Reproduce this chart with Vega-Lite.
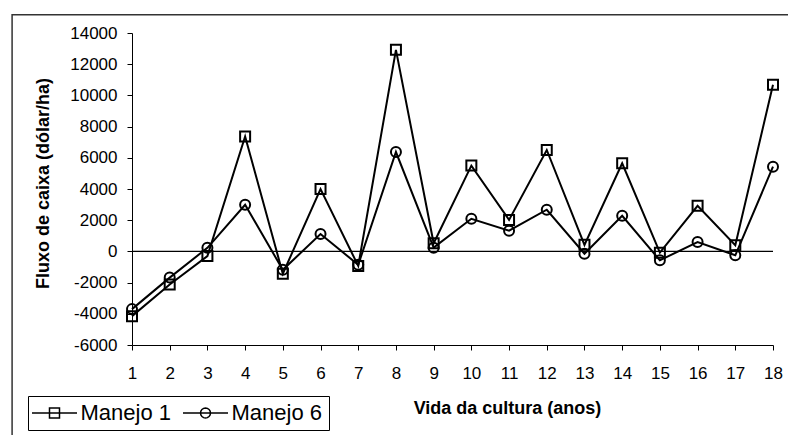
{
  "$schema": "https://vega.github.io/schema/vega-lite/v6.json",
  "width": 641,
  "height": 312,
  "autosize": {"type": "none"},
  "padding": {"left": 132, "top": 33, "right": 15, "bottom": 90},
  "background": "white",
  "config": {
    "font": "Liberation Sans",
    "view": {"stroke": null},
    "axis": {"grid": false, "domainColor": "#000", "tickColor": "#000", "labelColor": "#000", "titleColor": "#000", "labelFont": "Liberation Sans", "titleFont": "Liberation Sans", "labelOverlap": false}
  },
  "data": {
    "values": [
      {"ano": 1, "manejo": "Manejo 1", "valor": -4150},
      {"ano": 2, "manejo": "Manejo 1", "valor": -2120},
      {"ano": 3, "manejo": "Manejo 1", "valor": -300},
      {"ano": 4, "manejo": "Manejo 1", "valor": 7370},
      {"ano": 5, "manejo": "Manejo 1", "valor": -1430},
      {"ano": 6, "manejo": "Manejo 1", "valor": 4000},
      {"ano": 7, "manejo": "Manejo 1", "valor": -930},
      {"ano": 8, "manejo": "Manejo 1", "valor": 12920},
      {"ano": 9, "manejo": "Manejo 1", "valor": 520},
      {"ano": 10, "manejo": "Manejo 1", "valor": 5500},
      {"ano": 11, "manejo": "Manejo 1", "valor": 2020},
      {"ano": 12, "manejo": "Manejo 1", "valor": 6500},
      {"ano": 13, "manejo": "Manejo 1", "valor": 420},
      {"ano": 14, "manejo": "Manejo 1", "valor": 5650},
      {"ano": 15, "manejo": "Manejo 1", "valor": -80},
      {"ano": 16, "manejo": "Manejo 1", "valor": 2920},
      {"ano": 17, "manejo": "Manejo 1", "valor": 400},
      {"ano": 18, "manejo": "Manejo 1", "valor": 10680},
      {"ano": 1, "manejo": "Manejo 6", "valor": -3700},
      {"ano": 2, "manejo": "Manejo 6", "valor": -1680},
      {"ano": 3, "manejo": "Manejo 6", "valor": 230},
      {"ano": 4, "manejo": "Manejo 6", "valor": 2990},
      {"ano": 5, "manejo": "Manejo 6", "valor": -1180},
      {"ano": 6, "manejo": "Manejo 6", "valor": 1110},
      {"ano": 7, "manejo": "Manejo 6", "valor": -860},
      {"ano": 8, "manejo": "Manejo 6", "valor": 6370},
      {"ano": 9, "manejo": "Manejo 6", "valor": 240},
      {"ano": 10, "manejo": "Manejo 6", "valor": 2090},
      {"ano": 11, "manejo": "Manejo 6", "valor": 1330},
      {"ano": 12, "manejo": "Manejo 6", "valor": 2670},
      {"ano": 13, "manejo": "Manejo 6", "valor": -150},
      {"ano": 14, "manejo": "Manejo 6", "valor": 2280},
      {"ano": 15, "manejo": "Manejo 6", "valor": -570},
      {"ano": 16, "manejo": "Manejo 6", "valor": 600},
      {"ano": 17, "manejo": "Manejo 6", "valor": -250},
      {"ano": 18, "manejo": "Manejo 6", "valor": 5430}
    ]
  },
  "resolve": {"scale": {"shape": "independent"}, "legend": {"shape": "independent"}},
  "layer": [
    {
      "data": {"values": [{}]},
      "mark": {"type": "rect", "filled": false, "stroke": "#333", "strokeWidth": 1.5, "clip": false},
      "encoding": {
        "x": {"datum": -2.18, "type": "quantitative", "scale": {"domain": [1, 18]}},
        "x2": {"datum": 20},
        "y": {"datum": 15170, "type": "quantitative", "scale": {"domain": [-6000, 14000]}},
        "y2": {"datum": -12000}
      }
    },
    {
      "data": {"values": [{}]},
      "mark": {"type": "rule", "color": "#000", "strokeWidth": 1.2},
      "encoding": {
        "y": {"datum": 0, "type": "quantitative"}
      }
    },
    {
      "mark": {"type": "line", "color": "#000", "strokeWidth": 2},
      "encoding": {
        "x": {
          "field": "ano", "type": "quantitative",
          "scale": {"domain": [1, 18], "nice": false, "zero": false},
          "axis": {
            "values": [1,2,3,4,5,6,7,8,9,10,11,12,13,14,15,16,17,18],
            "tickCount": 30,
            "labelExpr": "'' + datum.value",
            "labelOverlap": false,
            "title": "Vida da cultura (anos)",
            "labelFontSize": 17,
            "labelPadding": 15,
            "tickSize": 5,
            "titleFontSize": 18,
            "titleFontWeight": "bold",
            "titleX": 375,
            "titleY": 68,
            "titleAlign": "center",
            "titleBaseline": "alphabetic",
            "labelFlush": false
          }
        },
        "y": {
          "field": "valor", "type": "quantitative",
          "scale": {"domain": [-6000, 14000], "nice": false, "zero": false},
          "axis": {
            "values": [-6000,-4000,-2000,0,2000,4000,6000,8000,10000,12000,14000],
            "tickCount": 30,
            "labelExpr": "'' + datum.value",
            "labelOverlap": false,
            "title": "Fluxo de caixa (dólar/ha)",
            "labelFontSize": 17,
            "labelPadding": 10,
            "tickSize": 5,
            "titleFontSize": 18,
            "titleFontWeight": "bold",
            "titleAngle": -90,
            "titleX": -89,
            "titleY": 150,
            "titleAlign": "center",
            "titleBaseline": "middle"
          }
        },
        "detail": {"field": "manejo", "type": "nominal"}
      }
    },
    {
      "mark": {"type": "point", "filled": false, "color": "#000", "strokeWidth": 2, "size": 100, "opacity": 1},
      "encoding": {
        "x": {"field": "ano", "type": "quantitative"},
        "y": {"field": "valor", "type": "quantitative"},
        "shape": {
          "field": "manejo", "type": "nominal",
          "scale": {"domain": ["Manejo 1", "Manejo 6"], "range": ["square", "circle"]},
          "legend": null
        }
      }
    },
    {
      "mark": {"type": "point", "filled": false, "color": "#000", "strokeWidth": 1.5, "opacity": 0},
      "encoding": {
        "x": {"field": "ano", "type": "quantitative"},
        "y": {"field": "valor", "type": "quantitative"},
        "shape": {
          "field": "manejo", "type": "nominal",
          "scale": {"domain": ["Manejo 1", "Manejo 6"], "range": ["M-2.25,0H2.25M-0.5,-0.5H0.5V0.5H-0.5Z", "M-2.25,0H2.25M0.5,0L0.462,0.191L0.354,0.354L0.191,0.462L0,0.5L-0.191,0.462L-0.354,0.354L-0.462,0.191L-0.5,0L-0.462,-0.191L-0.354,-0.354L-0.191,-0.462L0,-0.5L0.191,-0.462L0.354,-0.354L0.462,-0.191Z"]},
          "legend": {
            "title": null,
            "orient": "none",
            "direction": "horizontal",
            "legendX": -104,
            "legendY": 363,
            "strokeColor": "#000",
            "padding": 6,
            "labelFontSize": 22,
            "labelColor": "#000",
            "labelFont": "Liberation Sans",
            "symbolSize": 400,
            "symbolStrokeWidth": 1.5,
            "symbolStrokeColor": "#000",
            "symbolOpacity": 1,
            "symbolOffset": 9.5,
            "labelOffset": 15,
            "columnPadding": 8
          }
        }
      }
    }
  ]
}
